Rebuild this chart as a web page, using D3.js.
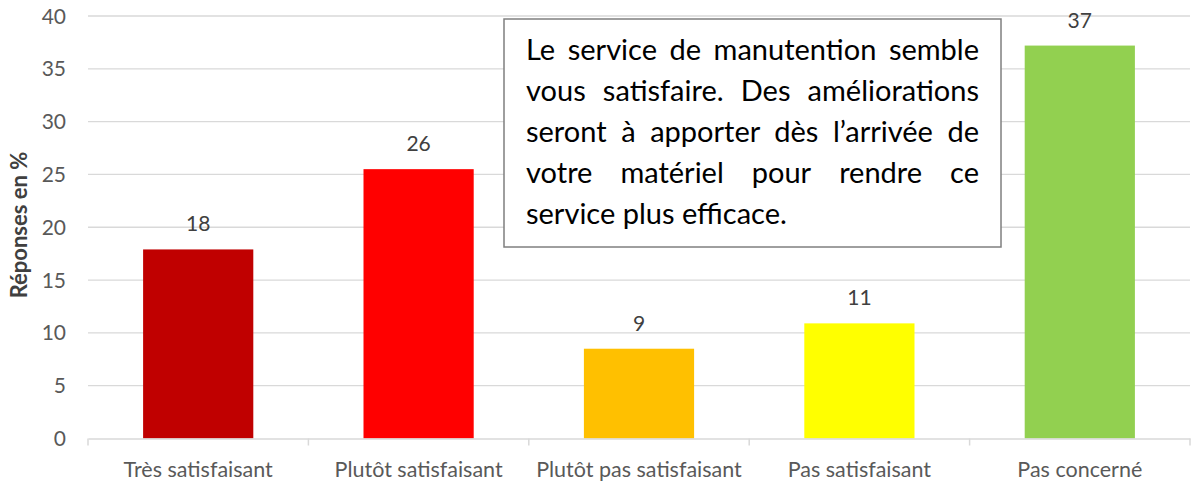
<!DOCTYPE html>
<html lang="fr">
<head>
<meta charset="UTF-8">
<title>Manutention</title>
<script src="https://d3js.org/d3.v7.min.js"></script>
<style>
    body { margin: 0; background: #fff; }
    text { font-family: Lato, "Open Sans", sans-serif; }
</style>
</head>
<body>
<script>
    // data
    const categories = ["Très satisfaisant", "Plutôt satisfaisant", "Plutôt pas satisfaisant", "Pas satisfaisant", "Pas concerné"];
    const values = [17.9, 25.5, 8.5, 10.9, 37.2];
    const labels = ["18", "26", "9", "11", "37"];
    const colors = ["#C00000", "#FF0000", "#FFC000", "#FFFF00", "#92D050"];
    const yTicks = [0, 5, 10, 15, 20, 25, 30, 35, 40];
    const noteLines = [
        "Le service de manutention semble",
        "vous satisfaire. Des améliorations",
        "seront à apporter dès l’arrivée de",
        "votre matériel pour rendre ce",
        "service plus efficace."
    ];

    let width = 1192, height = 484;
    let plotLeft = 88, plotRight = 1190, plotTop = 16, plotBottom = 438.5;

    let svg = d3.select("body").append("svg")
        .attr("width", width)
        .attr("height", height);

    let x = d3.scaleBand().domain(categories).range([plotLeft, plotRight])
        .paddingInner(0.5).paddingOuter(0.25);
    let y = d3.scaleLinear().domain([0, 40]).range([plotBottom, plotTop]);

    // gridlines
    svg.append("g").selectAll("line")
        .data(yTicks.slice(1))
        .enter().append("line")
        .attr("x1", plotLeft).attr("x2", plotRight)
        .attr("y1", d => y(d)).attr("y2", d => y(d))
        .attr("stroke", "#d9d9d9").attr("stroke-width", 1.3);

    // y tick labels
    svg.append("g").selectAll("text")
        .data(yTicks)
        .enter().append("text")
        .attr("x", 66)
        .attr("y", d => y(d) + 7.5)
        .attr("text-anchor", "end")
        .attr("fill", "#595959")
        .style("font-size", "21px")
        .text(d => d);

    // bars
    svg.append("g").selectAll("rect")
        .data(values)
        .enter().append("rect")
        .attr("x", (d, i) => x(categories[i]))
        .attr("width", x.bandwidth())
        .attr("y", d => y(d))
        .attr("height", d => y(0) - y(d))
        .attr("fill", (d, i) => colors[i]);

    // value labels
    svg.append("g").selectAll("text")
        .data(values)
        .enter().append("text")
        .attr("x", (d, i) => x(categories[i]) + x.bandwidth() / 2)
        .attr("y", d => y(d) - 18)
        .attr("text-anchor", "middle")
        .attr("fill", "#404040")
        .style("font-size", "21px")
        .text((d, i) => labels[i]);

    // x axis
    let xAxis = svg.append("g")
        .attr("transform", "translate(0," + plotBottom + ")")
        .call(d3.axisBottom(x).tickSize(0).tickPadding(23));
    xAxis.select(".domain").attr("stroke", "#d9d9d9").attr("stroke-width", 1.5);
    xAxis.selectAll("text")
        .attr("fill", "#595959")
        .style("font-size", "21.5px")
        .style("font-family", "Lato, 'Open Sans', sans-serif");
    let step = x.step();
    xAxis.selectAll(".sep")
        .data(d3.range(categories.length + 1))
        .enter().append("line")
        .attr("x1", i => plotLeft + i * step).attr("x2", i => plotLeft + i * step)
        .attr("y1", 0).attr("y2", 7)
        .attr("stroke", "#d9d9d9").attr("stroke-width", 1.5);

    // y axis title
    svg.append("text")
        .attr("transform", "translate(27,225) rotate(-90)")
        .attr("text-anchor", "middle")
        .attr("fill", "#404040")
        .style("font-size", "22px")
        .style("font-weight", "bold")
        .text("Réponses en %");

    // note box
    let bx = 504, by = 19, bw = 497, bh = 228;
    svg.append("rect")
        .attr("x", bx).attr("y", by).attr("width", bw).attr("height", bh)
        .attr("fill", "#fff").attr("stroke", "#7f7f7f").attr("stroke-width", 1.5);

    let tx0 = 526, tx1 = 979, lineH = 41;
    noteLines.forEach(function (line, i) {
        let t = svg.append("text")
            .attr("y", 60 + i * lineH)
            .attr("fill", "#000")
            .style("font-size", "29px");
        let words = line.split(" ");
        if (i === noteLines.length - 1) {
            t.attr("x", tx0).text(line);
            return;
        }
        // justify: place each word with spread spacing
        let spans = words.map(w => t.append("tspan").text(w));
        let widths = spans.map(s => s.node().getComputedTextLength());
        let gap = (tx1 - tx0 - d3.sum(widths)) / (words.length - 1);
        let cx = tx0;
        spans.forEach(function (s, j) {
            s.attr("x", cx);
            cx += widths[j] + gap;
        });
    });
</script>
</body>
</html>
